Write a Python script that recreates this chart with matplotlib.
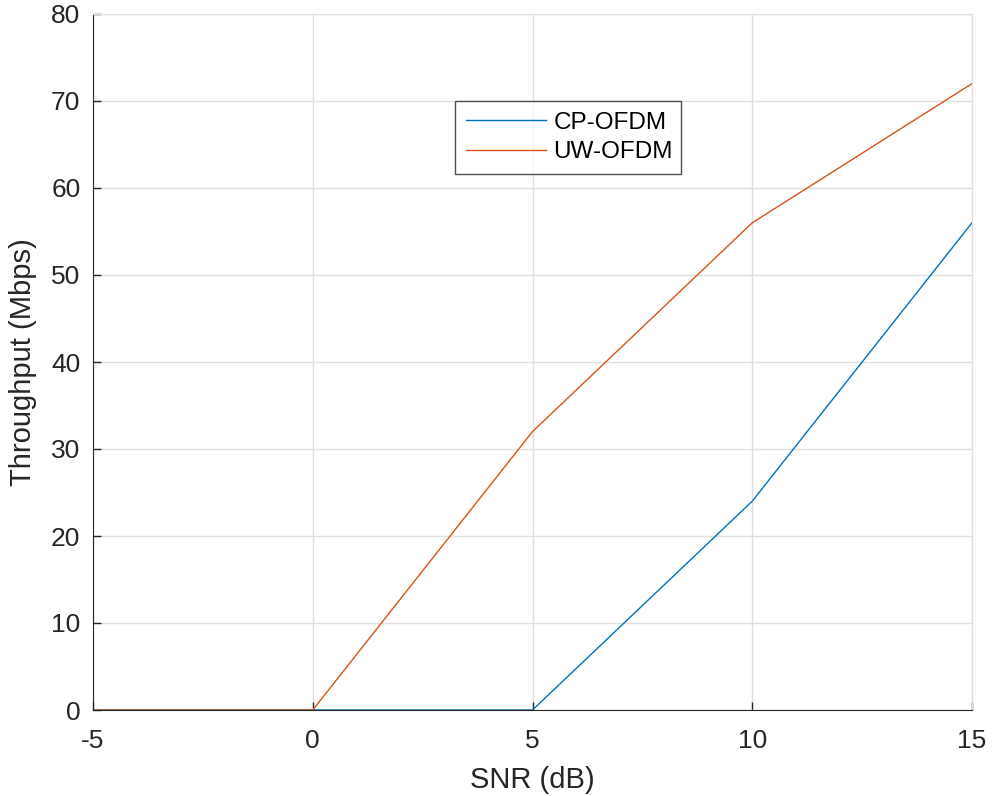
import matplotlib
matplotlib.use('Agg')
import matplotlib.pyplot as plt

plt.rcParams['font.family'] = ['Liberation Sans', 'DejaVu Sans']
plt.rcParams['axes.unicode_minus'] = False

snr = [-5, 0, 5, 10, 15]
cp_ofdm = [0, 0, 0, 24, 56]
uw_ofdm = [0, 0, 32, 56, 72]

fig = plt.figure(figsize=(9.92, 7.96), dpi=100)
ax = fig.add_axes([93 / 992, 1 - 710 / 796, 879 / 992, 696 / 796])

ax.plot(snr, cp_ofdm, color='#0072BD', lw=1.0, label='CP-OFDM')
ax.plot(snr, uw_ofdm, color='#D95319', lw=1.0, label='UW-OFDM')

ax.set_xlim(-5, 15)
ax.set_ylim(0, 80)
ax.set_xticks([-5, 0, 5, 10, 15])
ax.set_yticks(range(0, 81, 10))
ax.grid(True, color='#dfdfdf', lw=1.0)
ax.set_axisbelow(True)

for side in ('left', 'bottom'):
    ax.spines[side].set_color('#262626')
for side in ('top', 'right'):
    ax.spines[side].set_color('#dfdfdf')

ax.tick_params(direction='in', length=6, width=1, colors='#262626', labelsize=19,
               top=False, right=False)
ax.tick_params(axis='y', pad=9)
ax.tick_params(axis='x', pad=14)
ax.set_xlabel('SNR (dB)', fontsize=21, color='#262626', labelpad=9)
ax.set_ylabel('Throughput (Mbps)', fontsize=21, color='#262626', labelpad=10)

leg = ax.legend(loc='upper left', bbox_to_anchor=(0.412, 0.769, 0.257, 0.106), mode='expand',
                fontsize=17.5, frameon=True, fancybox=False, handlelength=3.3,
                borderaxespad=0, borderpad=0.45, labelspacing=0.3, handletextpad=0.3)
leg.get_frame().set_edgecolor('#262626')
leg.get_frame().set_linewidth(1.0)

fig.savefig('out.png', dpi=100)
